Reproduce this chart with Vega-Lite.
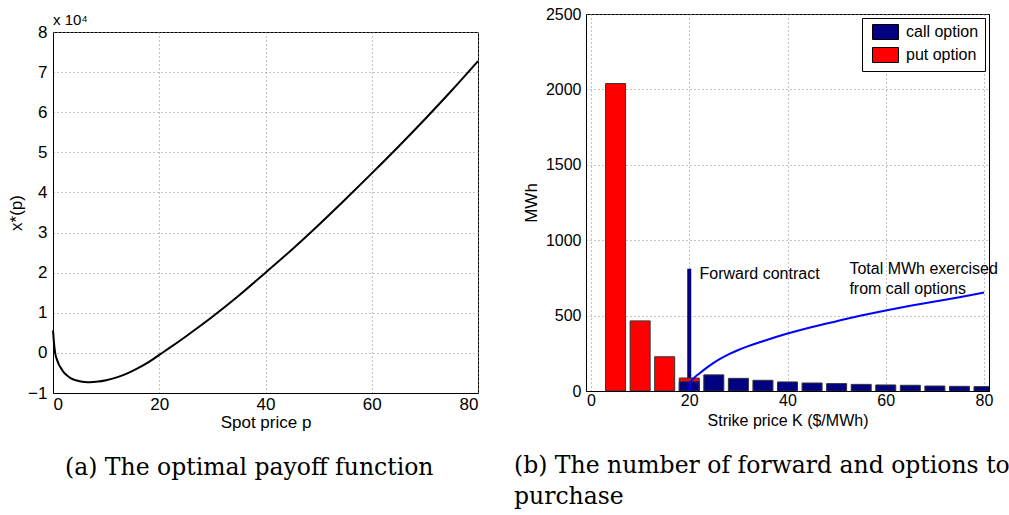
{
  "$schema": "https://vega.github.io/schema/vega-lite/v6.json",
  "padding": {"left": 7, "top": 5, "right": 0, "bottom": 0},
  "background": "white",
  "config": {
    "font": "Liberation Sans",
    "view": {"stroke": "#000", "strokeWidth": 1},
    "axis": {
      "domainColor": "#000", "grid": true, "gridColor": "#888", "gridDash": [1, 3], "gridOpacity": 1,
      "ticks": false, "labelColor": "#000", "titleColor": "#000",
      "labelFont": "Liberation Sans", "titleFont": "Liberation Sans", "titleFontWeight": "normal"
    },
    "title": {"font": "DejaVu Serif", "fontWeight": "normal", "color": "#000"}
  },
  "resolve": {"scale": {"color": "independent"}, "legend": {"color": "independent"}},
  "spacing": 30,
  "hconcat": [
    {
      "spacing": -11,
      "vconcat": [
        {
          "width": 425, "height": 18,
          "data": {"values": [{}]},
          "mark": {"type": "point", "opacity": 0},
          "view": {"stroke": null},
          "title": {"text": "x 10⁴", "orient": "bottom", "anchor": "start", "frame": "group", "baseline": "bottom", "offset": -4, "font": "Liberation Sans", "fontSize": 15, "fontWeight": "normal", "color": "#000"}
        },
        {
          "width": 425, "height": 361,
          "data": {"values": [
            {"p": 0, "x": 0.56}, {"p": 0.15, "x": 0.3}, {"p": 0.44, "x": -0.03}, {"p": 0.7, "x": -0.15},
            {"p": 1.07, "x": -0.28}, {"p": 1.5, "x": -0.38}, {"p": 2, "x": -0.48}, {"p": 2.6, "x": -0.56},
            {"p": 3.3, "x": -0.63}, {"p": 4.5, "x": -0.69}, {"p": 5.5, "x": -0.72}, {"p": 6.5, "x": -0.73},
            {"p": 7.5, "x": -0.725}, {"p": 8.5, "x": -0.715}, {"p": 10, "x": -0.68}, {"p": 12, "x": -0.61},
            {"p": 14, "x": -0.51}, {"p": 16, "x": -0.38}, {"p": 18, "x": -0.23}, {"p": 20, "x": -0.05},
            {"p": 22, "x": 0.13}, {"p": 25, "x": 0.41}, {"p": 30, "x": 0.9}, {"p": 35, "x": 1.43},
            {"p": 40, "x": 2.0}, {"p": 45, "x": 2.58}, {"p": 50, "x": 3.19}, {"p": 55, "x": 3.825},
            {"p": 60, "x": 4.475}, {"p": 65, "x": 5.14}, {"p": 70, "x": 5.825}, {"p": 75, "x": 6.535},
            {"p": 80, "x": 7.275}
          ]},
          "mark": {"type": "line", "color": "#000", "strokeWidth": 2, "interpolate": "monotone"},
          "encoding": {
            "x": {"field": "p", "type": "quantitative", "scale": {"domain": [0, 80], "nice": false},
                  "axis": {"values": [0, 20, 40, 60, 80], "title": "Spot price p", "labelFontSize": 17, "titleFontSize": 17, "labelPadding": 3, "titlePadding": 2}},
            "y": {"field": "x", "type": "quantitative", "scale": {"domain": [-1, 8], "nice": false, "zero": false},
                  "axis": {"values": [-1, 0, 1, 2, 3, 4, 5, 6, 7, 8], "title": "x*(p)", "labelFontSize": 17, "titleFontSize": 17, "labelPadding": 6, "titlePadding": 2}}
          },
          "title": {"text": "(a) The optimal payoff function", "orient": "bottom", "anchor": "start", "frame": "group", "offset": 26, "dx": 12, "fontSize": 23.5, "font": "DejaVu Serif", "fontWeight": "normal"}
        }
      ]
    },
    {
      "width": 403, "height": 377,
      "title": {"text": ["(b) The number of forward and options to", "purchase"], "orient": "bottom", "anchor": "start", "frame": "group", "offset": 26, "dx": -72, "fontSize": 23.5, "lineHeight": 31, "font": "DejaVu Serif", "fontWeight": "normal"},
      "encoding": {
        "x": {"field": "K", "type": "quantitative", "scale": {"domain": [0, 80], "nice": false},
              "axis": {"values": [0, 20, 40, 60, 80], "title": "Strike price K ($/MWh)", "labelFontSize": 16, "titleFontSize": 16, "labelPadding": 1, "titlePadding": 4}},
        "y": {"field": "v", "type": "quantitative", "scale": {"domain": [0, 2500], "nice": false},
              "axis": {"values": [0, 500, 1000, 1500, 2000, 2500], "format": "d", "title": "MWh", "labelFontSize": 16, "titleFontSize": 17, "labelPadding": 5, "titlePadding": 5}}
      },
      "layer": [
        {
          "data": {"values": [{"K": 20, "v": 811}]},
          "mark": {"type": "bar", "orient": "vertical", "size": 4, "color": "#000080", "clip": true}
        },
        {
          "data": {"values": [
            {"K": 5, "v": 2039, "type": "put option"},
            {"K": 10, "v": 465, "type": "put option"},
            {"K": 15, "v": 227, "type": "put option"},
            {"K": 20, "v": 86, "type": "put option"},
            {"K": 20, "v": 62, "type": "call option"},
            {"K": 25, "v": 107, "type": "call option"},
            {"K": 30, "v": 84, "type": "call option"},
            {"K": 35, "v": 71, "type": "call option"},
            {"K": 40, "v": 60, "type": "call option"},
            {"K": 45, "v": 53, "type": "call option"},
            {"K": 50, "v": 49, "type": "call option"},
            {"K": 55, "v": 44, "type": "call option"},
            {"K": 60, "v": 40, "type": "call option"},
            {"K": 65, "v": 38, "type": "call option"},
            {"K": 70, "v": 33, "type": "call option"},
            {"K": 75, "v": 31, "type": "call option"},
            {"K": 80, "v": 29, "type": "call option"}
          ]},
          "mark": {"type": "bar", "orient": "vertical", "size": 20, "stroke": "#333", "strokeWidth": 1, "clip": true},
          "encoding": {
            "y": {"field": "v", "type": "quantitative", "stack": null},
            "color": {"field": "type", "type": "nominal",
                      "scale": {"domain": ["call option", "put option"], "range": ["#000080", "#ff0000"]},
                      "legend": {"orient": "top-right", "offset": 4, "title": null, "fillColor": "#fff", "strokeColor": "#000", "padding": 6,
                                 "labelFontSize": 16, "labelFont": "Liberation Sans", "labelColor": "#000",
                                 "symbolType": "M-1.733,-1L1.733,-1L1.733,1L-1.733,1Z", "symbolSize": 225,
                                 "symbolOffset": 9.5,
                                 "symbolStrokeColor": "#000", "symbolStrokeWidth": 1, "symbolOpacity": 1,
                                 "rowPadding": 3, "labelOffset": 12.5}}
          }
        },
        {
          "data": {"values": [
            {"K": 20, "v": 0}, {"K": 20.2, "v": 55}, {"K": 21, "v": 88}, {"K": 22, "v": 115},
            {"K": 24, "v": 165}, {"K": 26, "v": 208}, {"K": 28, "v": 243}, {"K": 30, "v": 272},
            {"K": 35, "v": 330}, {"K": 40, "v": 381}, {"K": 45, "v": 425}, {"K": 50, "v": 463},
            {"K": 55, "v": 500}, {"K": 60, "v": 534}, {"K": 65, "v": 565}, {"K": 70, "v": 594},
            {"K": 75, "v": 622}, {"K": 80, "v": 653}
          ]},
          "mark": {"type": "line", "color": "#0000ff", "strokeWidth": 2, "interpolate": "monotone", "clip": true}
        },
        {
          "data": {"values": [
            {"K": 22.1, "v": 776, "label": "Forward contract"},
            {"K": 52.6, "v": 812, "label": "Total MWh exercised"},
            {"K": 52.6, "v": 676, "label": "from call options"}
          ]},
          "mark": {"type": "text", "align": "left", "baseline": "middle", "fontSize": 16, "font": "Liberation Sans", "color": "#000"},
          "encoding": {"text": {"field": "label", "type": "nominal"}}
        }
      ]
    }
  ]
}
